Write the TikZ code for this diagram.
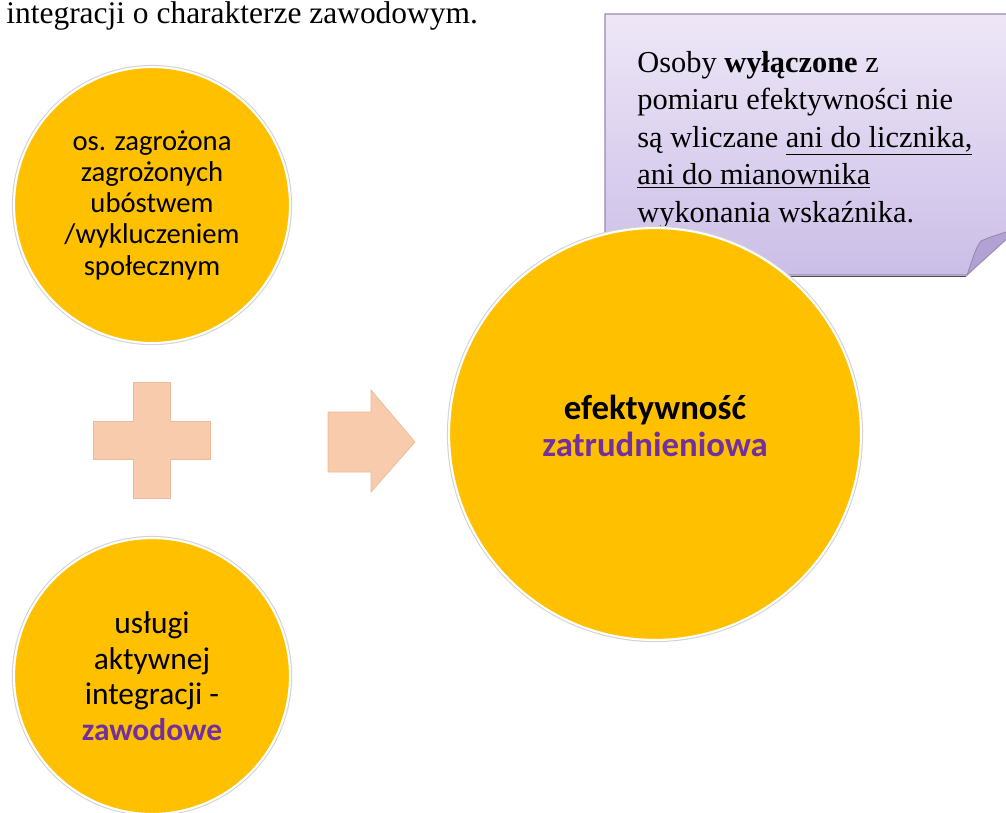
\documentclass[tikz,border=0pt]{standalone}
\usepackage{fontspec}
\setmainfont{Liberation Serif}
\setsansfont{Carlito}
\usepackage{xcolor}
\usetikzlibrary{positioning}

\definecolor{gold}{RGB}{255,192,0}
\definecolor{violet}{RGB}{112,48,160}
\definecolor{salmon}{RGB}{248,203,173}
\definecolor{salmonedge}{RGB}{236,186,156}
\definecolor{notetop}{RGB}{238,231,247}
\definecolor{notebot}{RGB}{203,190,231}
\definecolor{noteedge}{RGB}{150,138,172}
\definecolor{notefold}{RGB}{178,162,212}

\begin{document}
\begin{tikzpicture}[x=0.02cm, y=-0.02cm,
  blob/.style={circle, fill=gold, draw=white, line width=1.2pt, inner sep=0pt,
               minimum size=5.52cm, align=center,
               preaction={draw=gray!35, line width=2.4pt}},
  smalltxt/.style={font=\sffamily\fontsize{16.3}{17.8}\selectfont},
  midtxt/.style={font=\sffamily\fontsize{17.9}{20.2}\selectfont},
  bigtxt/.style={font=\sffamily\bfseries\fontsize{19.8}{21.2}\selectfont},
  sign/.style={fill=salmon, draw=salmonedge, line width=0.4pt},
  note/.style={top color=notetop, bottom color=notebot, draw=noteedge, line width=0.6pt}
]
\useasboundingbox (0,0) rectangle (1006,812);

%% Heading line (end of the paragraph above)
\node[anchor=base west, inner sep=0pt, font=\fontsize{17.9}{21}\selectfont]
  (head) at (6,23) {integracji o charakterze zawodowym.};

%% Callout with folded corner
\shade[note] (605,14) -- (1010,14) -- (1010,229) -- (967,275) -- (605,275) -- cycle;
\draw[line width=1.1pt, black!70] (607,276.5) -- (966,276.5);
\filldraw[fill=notefold, draw=noteedge, line width=0.5pt]
  (967,275) .. controls (972,262) and (975,248) .. (981,241)
  .. controls (990,237) and (999,234) .. (1010,231) -- (1010,236) -- cycle;
\node[anchor=north west, inner sep=0pt, align=left,
      font=\fontsize{17.3}{21.3}\selectfont] (ntext) at (637,51)
  {Osoby \textbf{wyłączone} z\\
   pomiaru efektywności nie\\
   są wliczane \underline{ani do licznika,}\\
   \underline{ani do mianownika}\\
   wykonania wskaźnika.};

%% Left column: two inputs joined by a plus
\node[blob, smalltxt] (risk) at (152,205)
  {os. zagrożona\\zagrożonych\\ubóstwem\\/wykluczeniem\\społecznym};
\node[blob, midtxt] (serv) at (152,676)
  {usługi\\aktywnej\\integracji -\\\textbf{\textcolor{violet}{zawodowe}}};

\path (risk) -- (serv) coordinate[midway] (plus);
\fill[sign] ([shift={(-58.5,-19)}]plus) -- ++(40,0) -- ++(0,-39) -- ++(37,0)
  -- ++(0,39) -- ++(40,0) -- ++(0,38) -- ++(-40,0) -- ++(0,39) -- ++(-37,0)
  -- ++(0,-39) -- ++(-40,0) -- cycle;

%% Block arrow towards the result
\coordinate (tip) at (415,442);
\fill[sign] ([shift={(-87,-30)}]tip) -- ++(43,0) -- ++(0,-22) -- (tip)
  -- ([shift={(-44,50)}]tip) -- ++(0,-20) -- ++(-43,0) -- cycle;

%% Result
\node[blob, minimum size=8.24cm, bigtxt] (effect) at (655,434)
  {efektywność\\\textcolor{violet}{zatrudnieniowa}\\[-12pt]};
\end{tikzpicture}
\end{document}
